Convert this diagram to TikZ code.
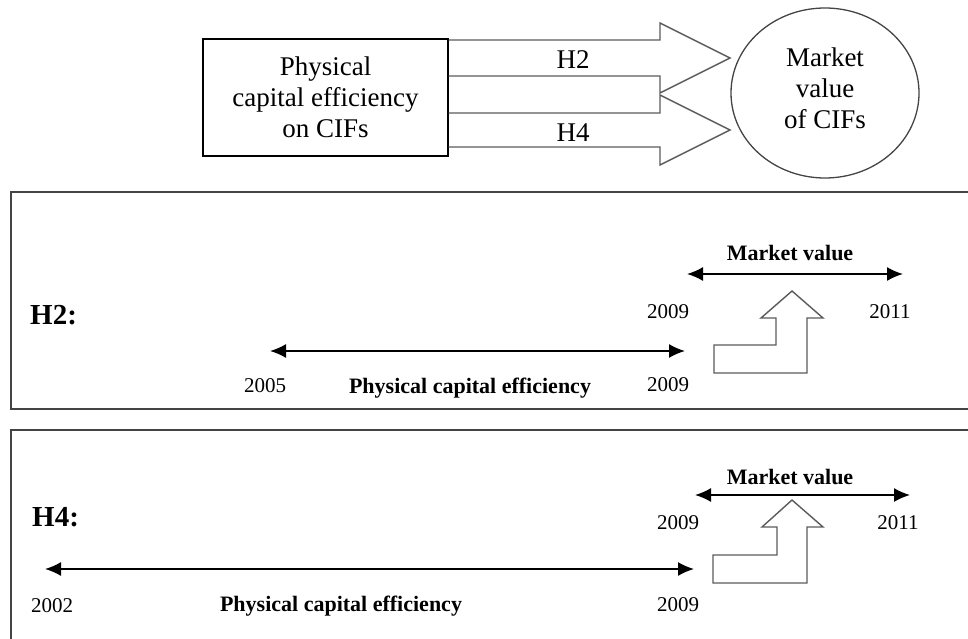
\documentclass[tikz,border=0pt]{standalone}
\usepackage{fontspec}
\setmainfont{Liberation Serif}
\usetikzlibrary{arrows.meta,shapes.geometric}
\definecolor{framegray}{HTML}{444444}
\definecolor{arrowgray}{HTML}{5A5A5A}

\begin{document}
\begin{tikzpicture}[x=1pt, y=-1pt,
  big/.style={font=\fontsize{27}{31}\selectfont, align=center, inner sep=0pt},
  yr/.style={font=\fontsize{21}{25}\selectfont, inner sep=0pt},
  lbl/.style={font=\bfseries\fontsize{22}{26}\selectfont, inner sep=0pt},
  hyp/.style={font=\bfseries\fontsize{29}{34}\selectfont, inner sep=0pt, anchor=west},
  blk/.style={draw=arrowgray, line width=1.4pt, line join=miter},
  tl/.style={{Latex[length=16pt,width=14pt]}-{Latex[length=16pt,width=14pt]}, line width=1.6pt}]
  \clip (0,0) rectangle (968,639);
  % Efficiency box and market value circle
  \node[big, draw, line width=1.3pt, minimum width=245pt, minimum height=117pt] (phys) at (325.5,97.5) {Physical\\capital efficiency\\on CIFs};
  \node[big, draw=framegray, line width=1.3pt, ellipse, text depth=9pt, minimum width=188pt, minimum height=170pt] (mval) at (825,93) {Market\\value\\of CIFs};
  % Block arrows H2 and H4
  \draw[blk] (phys.east |- 0,40) -- (660,40) -- (660,23) -- (730,58) -- (660,93) -- (660,76) -- (phys.east |- 0,76);
  \node[big] (h2) at (573,60) {H2};
  \draw[blk] (phys.east |- 0,113) -- (660,113) -- (660,95) -- (730,130) -- (660,165) -- (660,147) -- (phys.east |- 0,147);
  \node[big] (h4) at (573,133) {H4};
  % H2 panel
  \draw[framegray, line width=1.3pt] (11,192) rectangle (990,409);
  \node[hyp] (hyp2) at (30,315) {H2:};
  \coordinate (pce2a) at (270,351);
  \coordinate (pce2b) at (685,351);
  \draw[tl] (pce2a) -- (pce2b);
  \node[yr] (y2005) at (265,386) {2005};
  \node[yr] (y2009b) at (668,385) {2009};
  \node[lbl] (pce2) at (470,388) {Physical capital efficiency};
  \coordinate (mv2a) at (687,274);
  \coordinate (mv2b) at (903,274);
  \draw[tl] (mv2a) -- (mv2b);
  \node[lbl] (mv2) at (790,253) {Market value};
  \node[yr] (y2009a) at (668,312) {2009};
  \node[yr] (y2011a) at (890,312) {2011};
  \draw[blk] (792,291) -- (823,318) -- (807,318) -- (807,373) -- (714,373) -- (714,345) -- (776,345) -- (776,318) -- (761,318) -- cycle;
  % H4 panel
  \draw[framegray, line width=1.3pt] (11,430) rectangle (990,660);
  \node[hyp] (hyp4) at (32,517) {H4:};
  \coordinate (pce4a) at (45,569);
  \coordinate (pce4b) at (694,569);
  \draw[tl] (pce4a) -- (pce4b);
  \node[yr] (y2002) at (52,606) {2002};
  \node[yr] (y2009d) at (678,605) {2009};
  \node[lbl] (pce4) at (341,606) {Physical capital efficiency};
  \coordinate (mv4a) at (695,495);
  \coordinate (mv4b) at (910,495);
  \draw[tl] (mv4a) -- (mv4b);
  \node[lbl] (mv4) at (790,477) {Market value};
  \node[yr] (y2009c) at (678,523) {2009};
  \node[yr] (y2011b) at (898,523) {2011};
  \draw[blk] (792,500) -- (823,527) -- (807,527) -- (807,583) -- (713,583) -- (713,555) -- (777,555) -- (777,527) -- (762,527) -- cycle;
\end{tikzpicture}
\end{document}
